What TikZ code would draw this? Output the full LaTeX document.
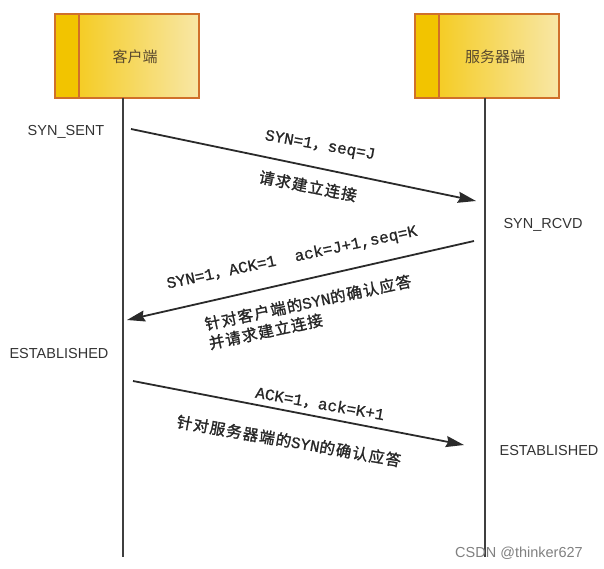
\documentclass[tikz,border=0pt]{standalone}
\usepackage{fontspec}
\setmainfont{Liberation Sans}
\newfontfamily\cjk{Noto Sans CJK SC}
\newfontfamily\cjkb{Noto Sans CJK SC}[FakeBold=1.5,LetterSpace=8]
\newfontfamily\lat{Liberation Mono}[FakeBold=0.8]
\usetikzlibrary{arrows.meta}
\definecolor{boxborder}{HTML}{D0702A}
\definecolor{stripc}{HTML}{F2C400}
\definecolor{lefty}{HTML}{F4C70C}
\definecolor{righty}{HTML}{F8E7A6}
\definecolor{headtxt}{HTML}{5A4A2E}
\definecolor{linec}{HTML}{2A2A2A}
\tikzset{
  x=1pt, y=-1pt,
  actor/.style={draw=boxborder, line width=1.5pt, minimum width=144pt, minimum height=84pt,
    left color=lefty, right color=righty, inner sep=0pt, outer sep=0pt},
  strip/.style={draw=boxborder, line width=1.5pt, fill=stripc},
  lifeline/.style={draw=linec!90, line width=1.8pt},
  msg/.style={draw=linec, line width=1.8pt, -{Stealth[length=18pt,width=11pt,inset=2pt]}},
  state/.style={font=\fontsize{14.5}{16}\selectfont, text=black!80, inner sep=0pt},
  lab/.style={inner sep=0pt, text=black!85},
  head/.style={font=\cjk\fontsize{15}{17}\selectfont, text=headtxt, inner sep=0pt}
}
\newcommand{\Lt}[1]{{\lat\fontsize{16}{18}\selectfont #1}}
\newcommand{\Cn}[1]{{\cjkb\fontsize{15.5}{18}\selectfont #1}}
\begin{document}
\begin{tikzpicture}
\useasboundingbox (0,0) rectangle (604,569);
% actor boxes
\node[actor] (cbox) at (127,56) {};
\draw[strip] (cbox.north west) rectangle ([xshift=24pt]cbox.south west);
\node[head] (ctext) at (135,57) {客户端};
\node[actor] (sbox) at (487,56) {};
\draw[strip] (sbox.north west) rectangle ([xshift=24pt]sbox.south west);
\node[head] (stext) at (495,57) {服务器端};
% lifelines
\coordinate (cbot) at (123,557);
\coordinate (sbot) at (485,557);
\draw[lifeline] ([xshift=-4pt]cbox.south) -- (cbot);
\draw[lifeline] ([xshift=-2pt]sbox.south) -- (sbot);
% states
\node[state] (s1) at (66,132) {SYN\_SENT};
\node[state] (s2) at (543,225) {SYN\_RCVD};
\node[state] (s3) at (59,354) {ESTABLISHED};
\node[state] (s4) at (549,451) {ESTABLISHED};
% messages
\coordinate (m1s) at (131,129);
\coordinate (m1e) at (476,201);
\coordinate (m2s) at (474,241);
\coordinate (m2e) at (127,320);
\coordinate (m3s) at (133,381);
\coordinate (m3e) at (464,445);
\draw[msg] (m1s) -- (m1e);
\draw[msg] (m2s) -- (m2e);
\draw[msg] (m3s) -- (m3e);
% labels
\node[lab, rotate=-10] (l1a) at (320,146) {\Lt{SYN=1}\Cn{，}\Lt{seq=J}};
\node[lab, rotate=-11] (l1b) at (308,186) {\Cn{请求建立连接}};
\node[lab, rotate=12] (l2a) at (292,258) {\Lt{SYN=1}\Cn{，}\Lt{ACK=1\ \ ack=J+1,seq=K}};
\node[lab, rotate=12, align=left] (l2b) at (310,312)
  {\Cn{针对客户端的}\Lt{SYN}\Cn{的确认应答}\\[4pt]\Cn{并请求建立连接}};
\node[lab, rotate=-10] (l3a) at (320,404) {\Lt{ACK=1}\Cn{，}\Lt{ack=K+1}};
\node[lab, rotate=-10] (l3b) at (289,441) {\Cn{针对服务器端的}\Lt{SYN}\Cn{的确认应答}};
% watermark
\node[inner sep=0pt, text=black!50, font=\fontsize{14.5}{16}\selectfont] (wm) at (519,553) {CSDN @thinker627};
\end{tikzpicture}
\end{document}
